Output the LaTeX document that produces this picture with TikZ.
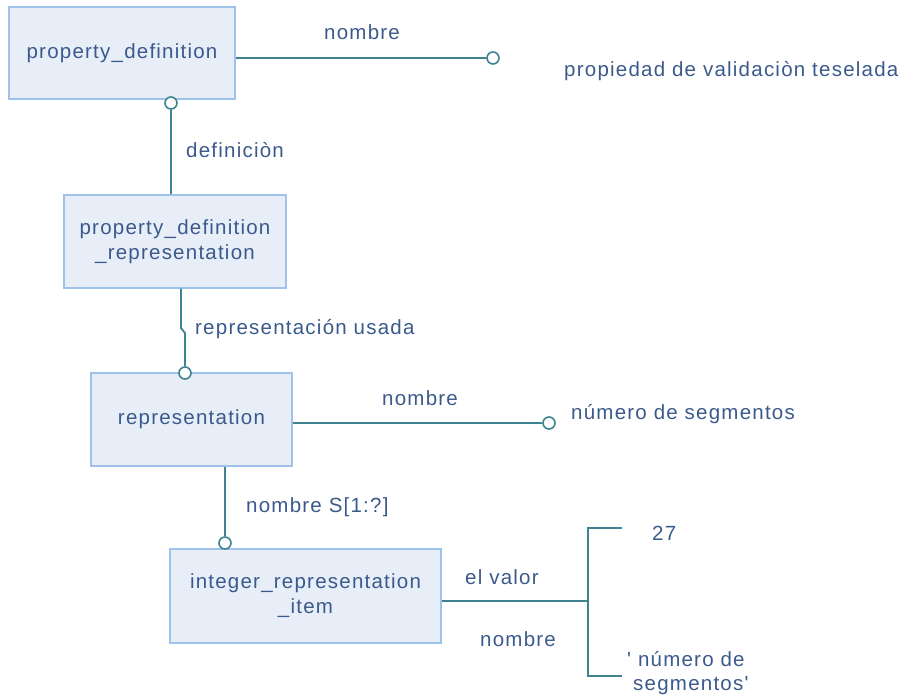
\documentclass[tikz,border=0pt]{standalone}
\usepackage{fontspec}
\setmainfont{Liberation Sans}[LetterSpace=6,Ligatures=TeXOff]
\definecolor{boxfill}{HTML}{E7EEF8}
\definecolor{boxdraw}{HTML}{9EC2EA}
\definecolor{linec}{HTML}{3F8393}
\definecolor{txtc}{HTML}{3B5A8C}
\begin{document}
\begin{tikzpicture}[x=1pt,y=-1pt,
  every node/.style={text=txtc,font=\fontsize{20.5}{25}\selectfont},
  ent/.style={draw=boxdraw,fill=boxfill,line width=1.4pt,rectangle,align=center,inner sep=0pt},
  conn/.style={draw=linec,line width=1.8pt},
  endc/.style={circle,draw=linec,fill=white,line width=1.6pt,minimum size=12pt,inner sep=0pt},
  lbl/.style={inner sep=0pt,anchor=west}]
\useasboundingbox (0,0) rectangle (909,697);
% entities
\node[ent,minimum width=226pt,minimum height=92pt] (pd) at (122,53) {property\_definition};
\node[ent,minimum width=222pt,minimum height=93pt] (pdr) at (175,241.5) {property\_definition\\[0pt]\_representation};
\node[ent,minimum width=201pt,minimum height=93pt] (rep) at (191.5,419.5) {representation};
\node[ent,minimum width=271pt,minimum height=94pt] (iri) at (305.5,596) {integer\_representation\\[0pt]\_item};
% circles
\node[endc] (c1) at (493,58) {};
\node[endc] (c2) at (171,103) {};
\node[endc] (c3) at (185,373) {};
\node[endc] (c4) at (549,423) {};
\node[endc] (c5) at (225,543) {};
% connectors
\draw[conn] (pd.east |- c1) -- (c1.west);
\draw[conn] (c2.south) -- (c2.south |- pdr.north);
\coordinate (j1) at (181,328);
\coordinate (j2) at (185,333);
\draw[conn] (j1 |- pdr.south) -- (j1) -- (j2) -- (c3.north);
\draw[conn] (rep.east |- c4) -- (c4.west);
\draw[conn] (c5.north |- rep.south) -- (c5.north);
\coordinate (b0) at (588,601);
\coordinate (bt) at (588,528);
\coordinate (bb) at (588,676);
\coordinate (tt) at (622,528);
\coordinate (tb) at (622,676);
\draw[conn] (iri.east |- b0) -- (b0);
\draw[conn] (tt) -- (bt) -- (bb) -- (tb);
% labels
\node[lbl] (l1) at (324,32) {nombre};
\node[lbl] (l2) at (564,71) {propiedad de validaciòn teselada};
\node[lbl] (l3) at (186,150) {definiciòn};
\node[lbl] (l4) at (195,329) {representación usada};
\node[lbl] (l5) at (382,398) {nombre};
\node[lbl] (l6) at (571,414) {número de segmentos};
\node[lbl] (l7) at (246,507) {nombre S[1:?]};
\node[lbl] (l8) at (465,577) {el valor};
\node[lbl] (l9) at (480,639) {nombre};
\node[lbl] (l10) at (652,533) {27};
\node[lbl] (l11) at (627,659) {' número de};
\node[lbl] (l12) at (633,686) {segmentos'};
\end{tikzpicture}
\end{document}
